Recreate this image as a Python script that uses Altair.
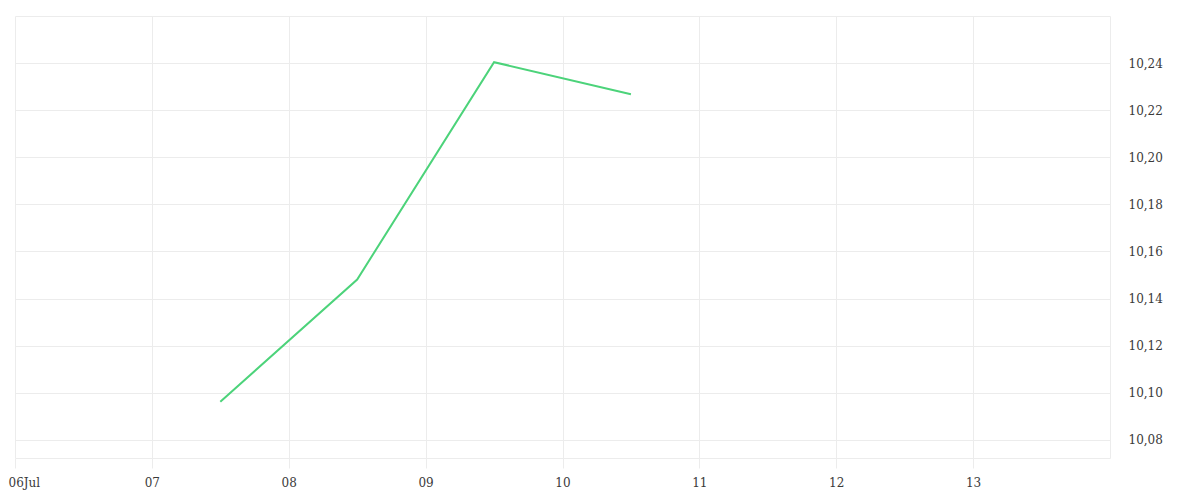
import altair as alt
import pandas as pd

dates = ["2023-07-07T12:00:00", "2023-07-08T12:00:00", "2023-07-09T12:00:00", "2023-07-10T12:00:00"]
values = [10.0962, 10.1481, 10.2404, 10.2268]
x_ticks = ["2023-07-06", "2023-07-07", "2023-07-08", "2023-07-09", "2023-07-10",
           "2023-07-11", "2023-07-12", "2023-07-13"]
y_ticks = [10.08, 10.10, 10.12, 10.14, 10.16, 10.18, 10.20, 10.22, 10.24, 10.26]

df = pd.DataFrame({"date": dates, "value": values})

grid_color = "#ececec"
font = "DejaVu Serif"

x_vals = [alt.DateTime(year=2023, month=7, date=int(d[-2:]), utc=True) for d in x_ticks]

chart = alt.Chart(df).mark_line(color="#4cd37a", strokeWidth=2).encode(
    x=alt.X("date:T",
            scale=alt.Scale(type="utc",
                            domain=[alt.DateTime(year=2023, month=7, date=6, utc=True),
                                    alt.DateTime(year=2023, month=7, date=14, utc=True)]),
            axis=alt.Axis(values=x_vals, title=None, grid=True, gridColor=grid_color,
                          domainColor=grid_color, tickColor=grid_color, tickSize=10,
                          labelPadding=9, labelFlush=True, labelFlushOffset=7,
                          labelExpr="utcFormat(datum.value, '%d') == '06' ? '06Jul' : utcFormat(datum.value, '%d')",
                          labelFont=font, labelFontSize=12, labelColor="#3a3a3a")),
    y=alt.Y("value:Q",
            scale=alt.Scale(domain=[10.0723, 10.26], nice=False, zero=False),
            axis=alt.Axis(orient="right", values=y_ticks, title=None, grid=True,
                          gridColor=grid_color, domainColor=grid_color, ticks=False,
                          labelPadding=18,
                          labelExpr="datum.value > 10.255 ? '' : replace(format(datum.value, '.2f'), '.', ',')",
                          labelFont=font, labelFontSize=12, labelColor="#3a3a3a")),
).properties(
    width=1095, height=442,
    autosize=alt.AutoSizeParams(type="none"),
    padding={"left": 7, "top": 8, "right": 80, "bottom": 40},
).configure_view(stroke=None)

chart.save("out.html", embed_options={"renderer": "svg", "actions": False})
